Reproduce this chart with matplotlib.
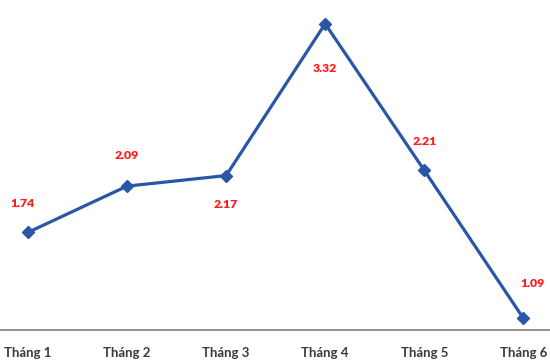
import matplotlib.pyplot as plt

months = ['Tháng 1', 'Tháng 2', 'Tháng 3', 'Tháng 4', 'Tháng 5', 'Tháng 6']
values = [1.74, 2.09, 2.17, 3.32, 2.21, 1.09]
# label offsets in points (dx, dy)
offsets = [(-4, 21), (0, 22), (0, -21), (0, -32), (0, 21), (7, 25)]

plt.rcParams['font.family'] = ['Lato', 'DejaVu Sans']

fig = plt.figure(figsize=(5.5, 3.64), dpi=100)
ax = fig.add_axes([0, 34 / 364, 1, 330 / 364])
x = list(range(len(months)))
ax.plot(x, values, color='#2a56a6', lw=2.3, marker='D', ms=6,
        markerfacecolor='#2a56a6', markeredgecolor='#2a56a6')

for xi, v, (dx, dy) in zip(x, values, offsets):
    ax.annotate(f'{v:.2f}', (xi, v), xytext=(dx, dy), textcoords='offset points',
                ha='center', va='center', color='#ff1a1a', fontsize=8.8,
                fontweight='heavy')

ax.set_xlim(-0.283, 5.27)
ax.set_ylim(1.0, 3.5)
for side in ['top', 'right', 'left']:
    ax.spines[side].set_visible(False)
ax.spines['bottom'].set_color('#8a8a8a')
ax.spines['bottom'].set_linewidth(1.3)
ax.set_yticks([])
ax.set_xticks(x)
ax.set_xticklabels(months, fontsize=9.5, fontweight='bold', color='#3a3a3a')
ax.tick_params(axis='x', length=0, pad=12)

fig.savefig('out.png', dpi=100)
